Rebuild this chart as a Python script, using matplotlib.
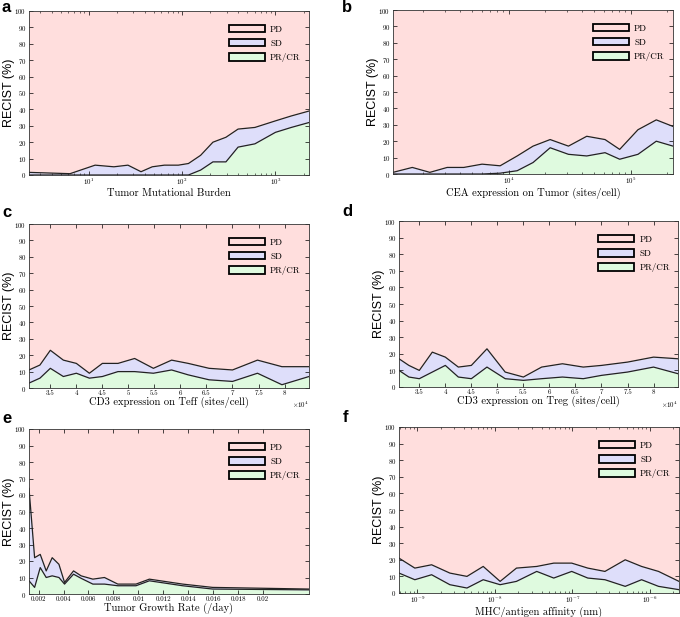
import numpy as np
import matplotlib.pyplot as plt
from matplotlib.patches import Patch
from matplotlib.ticker import FuncFormatter, MultipleLocator, FixedLocator

plt.rcParams['font.family'] = ['cmr10', 'DejaVu Serif']
plt.rcParams['mathtext.fontset'] = 'cm'
plt.rcParams['axes.unicode_minus'] = False
plt.rcParams['axes.formatter.use_mathtext'] = True

# colours of the three response classes
c_pd = '#ffdedd'
c_sd = '#dedefa'
c_pr = '#dffadf'

# each panel: x samples, PR/CR share (%), PR/CR + SD cumulative (%)
tmb = [2.29, 6.3, 11.7, 18.6, 26.3, 36.3, 47.9, 64.6, 91.2, 117, 158, 214, 295, 398, 603, 1000, 1479, 2290]
tmb_pr = [0, 0, 0, 0, 0, 0, 0, 0, 0, 0, 3, 8, 8, 17, 19, 26, 29, 32]
tmb_sd = [1.6, 0.8, 6, 5, 6, 2, 5, 6, 6, 7, 12, 20, 23, 28, 29, 33, 36, 39]

cea = [1127, 1622, 2259, 3133, 4285, 6053, 8511, 11749, 15849, 21878, 30903, 43652, 61660, 81283, 114815, 162181, 222330]
cea_pr = [0, 0, 0, 0, 0, 0, 0.5, 2, 7, 16, 12, 11, 13, 9, 12, 20, 17]
cea_sd = [1, 4, 1, 4, 4, 6, 5, 11, 17, 21, 17, 23, 21, 15, 27, 33, 29]

teff = [3.09, 3.3, 3.5, 3.75, 4.0, 4.25, 4.5, 4.8, 5.12, 5.48, 5.83, 6.15, 6.55, 7.0, 7.48, 7.95, 8.47]
teff_pr = [3, 6, 12, 7, 9, 6, 7, 10, 10, 9, 11, 8, 5, 4, 9, 2, 7]
teff_sd = [11, 14, 23, 17, 15, 9, 15, 15, 18, 12, 17, 15, 12, 11, 17, 13, 13]

treg = [3.11, 3.3, 3.5, 3.75, 4.0, 4.25, 4.5, 4.8, 5.15, 5.5, 5.85, 6.25, 6.65, 7.0, 7.5, 8.0, 8.47]
treg_pr = [10, 6, 5, 9, 13, 6, 5, 12, 5, 4, 5, 6, 5, 7, 9, 12, 8]
treg_sd = [17, 13, 10, 21, 18, 12, 13, 23, 9, 6, 12, 14, 12, 13, 15, 18, 17]

tgr = [0.00123, 0.00168, 0.00213, 0.00261, 0.00309, 0.00363, 0.00408, 0.0048, 0.00541, 0.00635,
       0.00728, 0.00835, 0.00981, 0.01088, 0.01355, 0.01595, 0.02368]
tgr_pr = [8, 4, 16, 10, 11, 10, 6, 12, 9.5, 6, 6, 5, 5, 8, 5, 3, 2.5]
tgr_sd = [64, 22, 24, 14, 22, 18, 7, 14, 11, 9, 10, 6, 6, 9, 6, 4, 3]
tgr_ticks = [0.002, 0.004, 0.006, 0.008, 0.01, 0.012, 0.014, 0.016, 0.018, 0.02]

mhc = [5.81e-10, 9.3e-10, 1.53e-9, 2.63e-9, 4.37e-9, 7.08e-9, 1.17e-8, 1.9e-8, 3.47e-8, 5.75e-8,
       9.8e-8, 1.58e-7, 2.63e-7, 4.8e-7, 7.8e-7, 1.29e-6, 2.37e-6]
mhc_pr = [12, 8, 11, 5, 3, 8, 5, 7, 13, 9, 13, 9, 8, 4, 8, 4, 2]
mhc_sd = [21, 15, 17, 12, 10, 16, 7, 15, 16, 18, 18, 15, 13, 20, 16, 13, 7]

panels = [
    ('a', tmb, tmb_pr, tmb_sd, 'Tumor Mutational Burden', 'log'),
    ('b', cea, cea_pr, cea_sd, 'CEA expression on Tumor (sites/cell)', 'log'),
    ('c', teff, teff_pr, teff_sd, 'CD3 expression on Teff (sites/cell)', 'e4'),
    ('d', treg, treg_pr, treg_sd, 'CD3 expression on Treg (sites/cell)', 'e4'),
    ('e', tgr, tgr_pr, tgr_sd, 'Tumor Growth Rate (/day)', 'lin'),
    ('f', mhc, mhc_pr, mhc_sd, 'MHC/antigen affinity (nm)', 'log'),
]

# axes boxes in pixels: left, top, right, bottom
boxes = [(29, 11, 309, 175), (393, 10, 673, 174),
         (29, 224, 309, 388), (399, 221, 678, 387),
         (29, 429, 309, 594), (399, 427, 679, 593)]
# panel letter positions in pixels (left, top)
letter_pos = [(2, 0), (342, 0), (2, 205), (342, 204), (2, 411), (343, 410)]

W, H = 680, 617
fig = plt.figure(figsize=(W / 100, H / 100), dpi=100)

for (letter, x, pr, sd, xlabel, kind), (l, t, r, b), (lx, ly) in zip(panels, boxes, letter_pos):
    ax = fig.add_axes([l / W, 1 - b / H, (r - l) / W, (b - t) / H])
    x = np.array(x)
    ax.fill_between(x, 0, pr, color=c_pr, lw=0)
    ax.fill_between(x, pr, sd, color=c_sd, lw=0)
    ax.fill_between(x, sd, 100, color=c_pd, lw=0)
    ax.plot(x, pr, color='#222222', lw=0.9)
    ax.plot(x, sd, color='#222222', lw=0.9)
    if kind == 'log':
        ax.set_xscale('log')
    elif kind == 'e4':
        ax.xaxis.set_major_locator(MultipleLocator(0.5))
        ax.xaxis.set_major_formatter(FuncFormatter(lambda v, p: '%g' % v))
        ax.text(1.0, -0.075, r'$\times10^4$', transform=ax.transAxes, ha='right', va='top', fontsize=5)
    else:
        ax.xaxis.set_major_locator(FixedLocator(tgr_ticks))
        ax.xaxis.set_major_formatter(FuncFormatter(lambda v, p: '%g' % round(v, 4)))
    ax.set_xlim(x[0], x[-1])
    ax.set_ylim(0, 100)
    ax.yaxis.set_major_locator(MultipleLocator(10))
    ax.tick_params(which='both', direction='in', top=True, right=True, labelsize=5, pad=2)
    ax.tick_params(axis='x', pad=1.5)
    ax.tick_params(which='major', length=3, width=0.5)
    ax.tick_params(which='minor', length=1.5, width=0.4)
    for s in ax.spines.values():
        s.set_linewidth(0.6)
        s.set_color('#333333')
    ax.set_xlabel(xlabel, fontsize=7.6, labelpad=0.8)
    ax.set_ylabel('RECIST (%)', fontsize=9, family='Liberation Sans')
    ax.yaxis.set_label_coords(-14 / (r - l), 0.5)

    handles = [Patch(facecolor=c_pd, edgecolor='black', lw=1.3, label='PD'),
               Patch(facecolor=c_sd, edgecolor='black', lw=1.3, label='SD'),
               Patch(facecolor=c_pr, edgecolor='black', lw=1.3, label='PR/CR')]
    ax.legend(handles=handles, loc='upper left', bbox_to_anchor=(0.69, 0.955), frameon=False,
              fontsize=6.5, handlelength=4.0, handleheight=0.9, labelspacing=0.6,
              handletextpad=0.6, borderpad=0.2)

    fig.text(lx / W, 1 - ly / H, letter, fontsize=12, fontweight='bold',
             family='Liberation Sans', va='top')

fig.savefig('out.png', dpi=100)
